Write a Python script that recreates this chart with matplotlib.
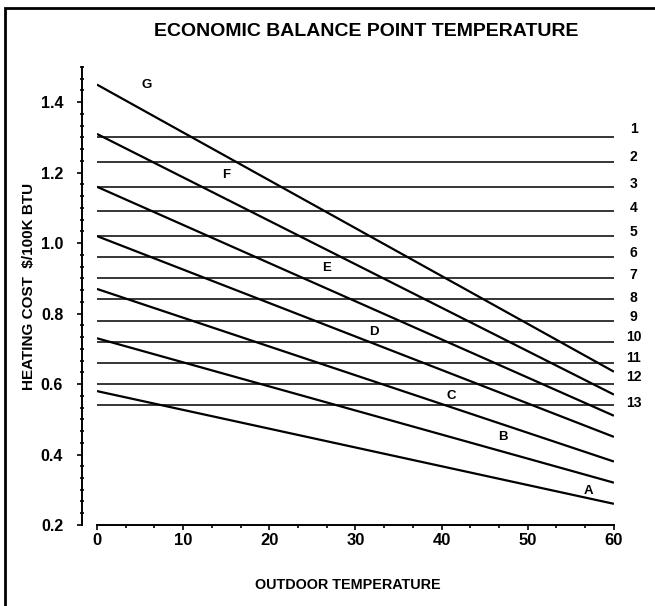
import matplotlib
matplotlib.use('Agg')
import matplotlib.pyplot as plt
from matplotlib.ticker import MultipleLocator, FixedLocator
from matplotlib.patches import Rectangle

plt.rcParams['font.family'] = ['Liberation Sans', 'DejaVu Sans']
plt.rcParams['font.weight'] = 'bold'

# diagonal cost lines: value at 0 F and at 60 F
line_names = ['A', 'B', 'C', 'D', 'E', 'F', 'G']
cost_at_0 = [0.58, 0.73, 0.87, 1.02, 1.16, 1.31, 1.45]
cost_at_60 = [0.26, 0.32, 0.38, 0.45, 0.51, 0.57, 0.635]

# horizontal reference levels 1..13
level_names = ['1', '2', '3', '4', '5', '6', '7', '8', '9', '10', '11', '12', '13']
level_values = [1.30, 1.23, 1.16, 1.09, 1.02, 0.96, 0.90, 0.84, 0.78, 0.72, 0.66, 0.60, 0.54]

temps = [0, 60]


def main():
    fig = plt.figure(figsize=(6.55, 6.06), dpi=100)
    ax = fig.add_axes([0.148, 0.1337, 0.7893, 0.7558])

    # horizontal levels
    for v in level_values:
        ax.plot(temps, [v, v], color='black', lw=1.1, solid_capstyle='butt')

    # diagonal lines
    for a, b in zip(cost_at_0, cost_at_60):
        ax.plot(temps, [a, b], color='black', lw=1.6, solid_capstyle='butt')

    # letter labels along the diagonals
    letter_pos = [(57.0, 0.297), (47.15, 0.449), (41.16, 0.566), (32.15, 0.749),
                  (26.65, 0.929), (15.05, 1.193), (5.77, 1.449)]
    for name, (x, y) in zip(line_names, letter_pos):
        ax.text(x, y, name, fontsize=9.5, fontweight='bold', ha='center', va='center')

    # level numbers on the right
    number_y = [1.323, 1.244, 1.168, 1.099, 1.032, 0.971, 0.909, 0.845,
                0.789, 0.733, 0.673, 0.619, 0.547]
    for name, y in zip(level_names, number_y):
        ax.text(62.3, y, name, fontsize=10, fontweight='bold', ha='center',
                va='center', clip_on=False)

    ax.set_xlim(0, 60)
    ax.set_ylim(0.2, 1.5)

    ax.spines['top'].set_visible(False)
    ax.spines['right'].set_visible(False)
    ax.spines['left'].set_position(('outward', 10.8))
    for s in ['left', 'bottom']:
        ax.spines[s].set_linewidth(1.4)

    ax.xaxis.set_major_locator(FixedLocator([0, 10, 20, 30, 40, 50, 60]))
    ax.xaxis.set_minor_locator(MultipleLocator(10 / 3))
    ax.yaxis.set_major_locator(FixedLocator([0.2, 0.4, 0.6, 0.8, 1.0, 1.2, 1.4]))
    ax.yaxis.set_minor_locator(MultipleLocator(0.2 / 6))
    ax.set_yticklabels(['0.2', '0.4', '0.6', '0.8', '1.0', '1.2', '1.4'])

    ax.tick_params(axis='x', which='major', direction='out', length=3.5, width=1.2,
                   labelsize=12, pad=2.5)
    ax.tick_params(axis='x', which='minor', direction='out', length=2, width=1.2)
    ax.tick_params(axis='y', which='major', direction='out', length=3.5, width=1.2,
                   labelsize=11.5, pad=10)
    ax.tick_params(axis='y', which='minor', direction='inout', length=3, width=1.2)
    for lab in ax.get_xticklabels() + ax.get_yticklabels():
        lab.set_fontweight('bold')

    fig.text(366 / 655, 1 - 31 / 606, 'ECONOMIC BALANCE POINT TEMPERATURE',
             fontsize=14, fontweight='bold', ha='center', va='center')
    fig.text(348 / 655, 1 - 585 / 606, 'OUTDOOR TEMPERATURE',
             fontsize=10.4, fontweight='bold', ha='center', va='center')
    fig.text(29 / 655, 1 - 286 / 606, 'HEATING COST  $/100K BTU',
             fontsize=11, fontweight='bold', ha='center', va='center', rotation=90)

    # outer frame
    fig.patches.append(Rectangle((5 / 655, -0.05), 1.05, 1 - 8 / 606 + 0.05,
                                 transform=fig.transFigure, fill=False,
                                 edgecolor='black', lw=2))

    fig.savefig('out.png', dpi=100)


if __name__ == "__main__":
    main()
